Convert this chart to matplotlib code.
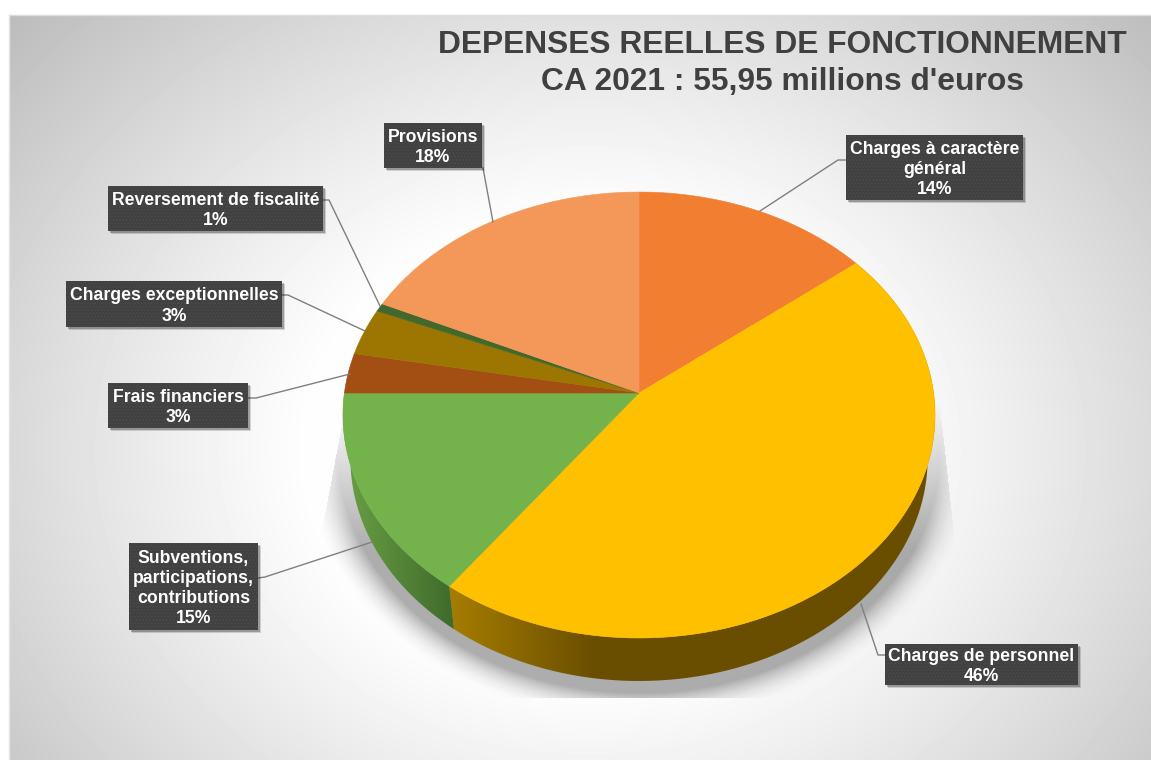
import numpy as np
import matplotlib
matplotlib.use('Agg')
import matplotlib.pyplot as plt
from matplotlib.patches import Polygon, Rectangle

title_lines = "DEPENSES REELLES DE FONCTIONNEMENT\nCA 2021 : 55,95 millions d'euros"

names = ['Charges à caractère\ngénéral', 'Charges de personnel',
         'Subventions,\nparticipations,\ncontributions', 'Frais financiers',
         'Charges exceptionnelles', 'Reversement de fiscalité', 'Provisions']
values = [14.3, 45.8, 14.9, 2.9, 3.4, 0.6, 18.1]
colors = ['#F27E32', '#FFC000', '#74B24B', '#A34E12', '#9C7600', '#43682B', '#F4985A']

# label boxes in pixels: x0, y0, x1, y1
boxes = [(846, 135, 1023, 200), (885, 644, 1078, 685), (129, 543, 258, 630),
         (108, 383, 248, 428), (66, 281, 282, 327), (108, 186, 323, 231),
         (384, 123, 482, 168)]
leaders = [[(846, 160), (838, 160), (760, 211)],
           [(885, 655), (878, 655), (861, 604)],
           [(258, 578), (265, 577), (372, 542)],
           [(248, 398), (256, 398), (350, 374)],
           [(282, 295), (288, 295), (365, 331)],
           [(323, 200), (329, 200), (380, 306)],
           [(483, 168), (483, 168), (493, 222)]]

W, H = 1151, 760
cx, cy = 639, 393
a, b, k = 294.6, 220.8, 0.0987
depth = 43
shrink = 0.975


def rim(theta):
    # perspective view of the pie circle, theta clockwise from the top
    u = np.sin(theta)
    v = -np.cos(theta)
    w = 1 - k * v
    return cx + a * u / w, cy + b * v / w


def low_rim(theta):
    x, y = rim(theta)
    return cx + (x - cx) * shrink, y + depth


fig = plt.figure(figsize=(W / 100, H / 100), dpi=100)
ax = fig.add_axes([0, 0, 1, 1])
ax.set_xlim(0, W)
ax.set_ylim(H, 0)
ax.axis('off')

# background
xx, yy = np.meshgrid(np.arange(W) + 0.5, np.arange(H) + 0.5)
r = np.sqrt(((xx - 590) / 780) ** 2 + ((yy - 450) / 640) ** 2)
grey = (254 - 68 * np.clip((r - 0.36) / 0.66, 0, 1) ** 1.1) / 255
bg = ax.imshow(grey, extent=(0, W, H, 0), cmap='gray', vmin=0, vmax=1, aspect='auto', zorder=0)
bg.set_clip_path(Rectangle((9, 15), W - 9, H - 15, transform=ax.transData))
ax.plot([9, W], [15, 15], color='#dcdcdc', lw=1, zorder=1)
ax.plot([9, 9], [15, H], color='#e4e4e4', lw=1, zorder=1)

# pie shadow
d = (np.sqrt(((xx - 639) / 302) ** 2 + ((yy - 448) / 245) ** 2) - 1) * 270
alpha = 0.32 * np.clip(1 - d / 34, 0, 1) ** 2 * np.clip((yy - 400) / 150, 0, 1)
alpha[(xx < 343 - (yy - 420) * 0.19) | (xx > 935 + (yy - 360) * 0.11) | (yy > 698)] = 0
shadow = np.zeros((H, W, 4))
shadow[..., 3] = alpha
ax.imshow(shadow, extent=(0, W, H, 0), aspect='auto', zorder=2)

edges = 2 * np.pi * np.cumsum([0] + values) / sum(values)

# side of the pie, only the two front slices can be seen
side_shades = {1: ('#A67D00', '#6A4E00', 450, 595), 2: ('#6AA044', '#3F6A2B', 343, 455)}
for i, (c0, c1, x0, x1) in side_shades.items():
    th = np.linspace(edges[i], edges[i + 1], 240)
    tx, ty = rim(th)
    bx, by = low_rim(th)
    pts = np.column_stack([np.r_[tx, bx[::-1]], np.r_[ty, by[::-1]]])
    patch = Polygon(pts, closed=True, fc='none', ec='none', transform=ax.transData)
    ax.add_patch(patch)
    c0 = np.array(matplotlib.colors.to_rgb(c0))
    c1 = np.array(matplotlib.colors.to_rgb(c1))
    t = np.clip((np.arange(W) - x0) / (x1 - x0), 0, 1)[None, :, None]
    im = ax.imshow(c0 + (c1 - c0) * t, extent=(0, W, H, 0), aspect='auto', zorder=3)
    im.set_clip_path(patch)

# top of the pie
for i, col in enumerate(colors):
    th = np.linspace(edges[i], edges[i + 1], 200)
    tx, ty = rim(th)
    ax.fill(np.r_[cx, tx], np.r_[cy, ty], fc=col, ec=col, lw=0.4, zorder=4)

# labels
for name, val, box, line in zip(names, values, boxes, leaders):
    x0, y0, x1, y1 = box
    lx, ly = zip(*line)
    ax.plot(lx, ly, color='#7f7f7f', lw=1, zorder=5)
    for off, op in [(3, 0.15), (2, 0.25)]:
        ax.add_patch(Rectangle((x0 + off, y0 + off), x1 - x0, y1 - y0, fc='#000000', alpha=op, ec='none', zorder=6))
    ax.add_patch(Rectangle((x0, y0), x1 - x0, y1 - y0, fc='#404040', ec='none', zorder=7))
    ax.add_patch(Rectangle((x0, y0), x1 - x0, y1 - y0, fc='none', ec='#4a4a4a', lw=0, hatch='.....', zorder=7))
    ax.text((x0 + x1) / 2, (y0 + y1) / 2 + 2, f'{name}\n{round(val)}%', color='white', fontsize=12.7,
            fontweight='bold', family='Liberation Sans', ha='center', va='center',
            linespacing=1.24, zorder=8)

ax.text(782, 63.5, title_lines, color='#404040', fontsize=22.9, fontweight='bold',
        family='Liberation Sans', ha='center', va='center', linespacing=1.32, zorder=8)

fig.savefig('out.png', dpi=100)
